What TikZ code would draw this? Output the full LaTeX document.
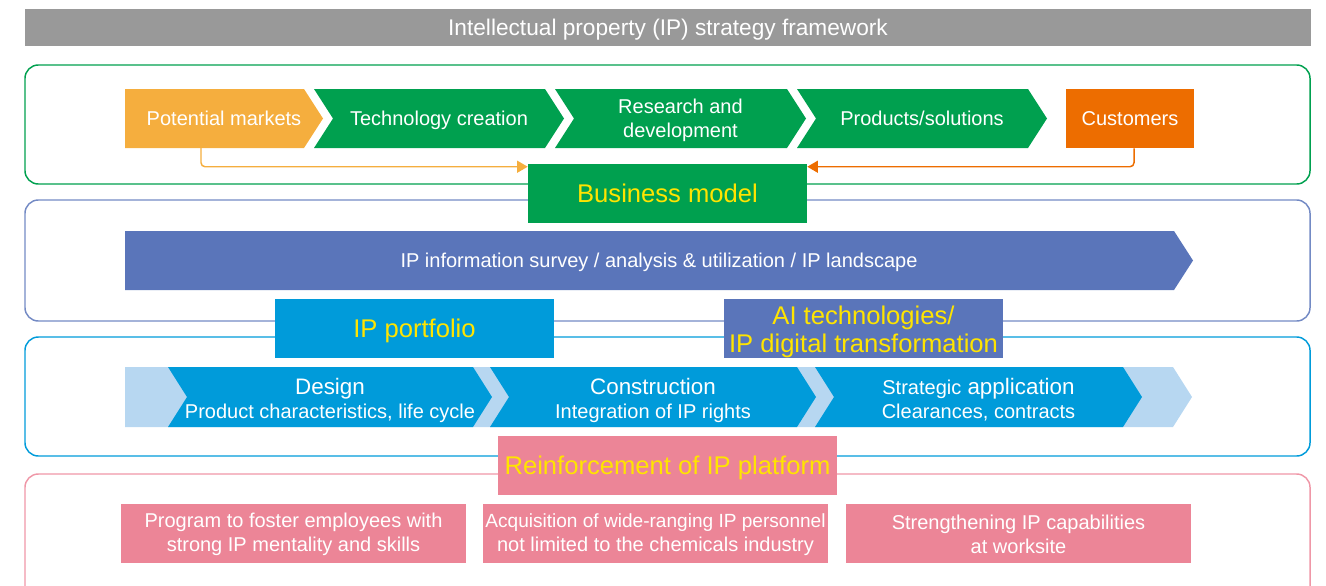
\documentclass[tikz,border=0pt]{standalone}
\usepackage{fontspec}
\setmainfont{Liberation Sans}
\usetikzlibrary{arrows.meta}
\definecolor{ipcinza}{HTML}{999999}
\definecolor{ipverde}{HTML}{00A04F}
\definecolor{ipamarelo}{HTML}{F5AE3E}
\definecolor{iplaranja}{HTML}{ED6D00}
\definecolor{ipazul}{HTML}{5A75BA}
\definecolor{ipciano}{HTML}{009BDA}
\definecolor{ipclaro}{HTML}{B7D7F1}
\definecolor{iprosa}{HTML}{EC8597}
\definecolor{ipouro}{HTML}{FFE400}
\tikzset{
  moldura/.style={line width=1.1pt,rounded corners=10pt},
  rot/.style={text=white,font=\fontsize{15}{18}\selectfont,align=center,inner sep=0pt},
  linha/.style={rot,text height=10.95pt,text depth=0pt},
  etapa/.style={rot,font=\fontsize{16.8}{18}\selectfont,text height=12.26pt,text depth=0pt},
  bloco/.style={inner sep=0pt,minimum width=209.25pt,minimum height=44.25pt},
  selo/.style={bloco,text=ipouro,font=\fontsize{19.2}{21.75}\selectfont,align=center,text height=14pt,text depth=0pt},
  caixa/.style={bloco,fill=iprosa,minimum width=258.75pt},
  liga/.style={line width=1.1pt,rounded corners=3pt,-{Triangle[length=8pt,width=9pt]}},
}
% seta: x esq, x dir, y topo, y base, entalhe, cor
\newcommand{\ipseta}[6]{\fill[#6] (#1,#3) -- (#2,#3) -- ({#2+19},{(#3+#4)/2}) -- (#2,#4) -- (#1,#4) -- ({#1+#5},{(#3+#4)/2}) -- cycle;}

\begin{document}
\begin{tikzpicture}[x=0.75pt,y=-0.75pt]
  \clip (0,0) rectangle (1326,585);
  \fill[ipcinza] (25,9) rectangle (1311,46);
  \node[rot,font=\fontsize{17}{20}\selectfont,text height=12.4pt,text depth=0pt] (titulo) at (668,27.5) {Intellectual property (IP) strategy framework};
  \foreach \cor/\ya/\yb in {ipverde/65/184, ipazul!85/200/321, ipciano/337/456, iprosa!85/474/620}
    \draw[moldura,draw=\cor] (25,\ya) rectangle (1310,\yb);

  % cadeia de valor
  \ipseta{125}{304}{89}{148}{0}{ipamarelo}
  \node[linha] (pm) at (224,118.5) {Potential markets};
  \foreach \a/\b/\nome/\txt in {314/545/tec/{Technology creation}, 797/1028/prod/{Products/solutions}} {
    \ipseta{\a}{\b}{89}{148}{19}{ipverde}
    \node[linha] (\nome) at ({(\a+\b)/2+9.5},118.5) {\txt};}
  \ipseta{555}{787}{89}{148}{19}{ipverde}
  \node[rot,yshift=-1.5pt] (pd) at (680.5,118.5) {Research and\\development};
  \node[linha,fill=iplaranja,minimum width=96pt,minimum height=44.25pt] (cli) at (1130,118.5) {Customers};
  \node[selo,fill=ipverde] (nm) at (667.5,193.5) {Business model};
  \coordinate (pmpe) at (201,148);
  \draw[liga,ipamarelo] (pmpe) |- ([yshift=-2.25pt]nm.north west);
  \draw[liga,iplaranja] ([xshift=3pt]cli.south) |- ([yshift=-2.25pt]nm.north east);

  % informacao
  \ipseta{125}{1174}{231}{290}{0}{ipazul}
  \node[linha] (info) at (659,260.5) {IP information survey / analysis \& utilization / IP landscape};
  \node[selo,fill=ipciano] (port) at (414.5,328.5) {IP portfolio};
  \node[bloco,fill=ipazul] (ia) at (863.5,328.5) {};
  \node[rot,text=ipouro,font=\fontsize{19.2}{21.3}\selectfont,yshift=-2.6pt] (tia) at (ia) {AI technologies/\\IP digital transformation};

  % portfolio
  \ipseta{125}{1173}{367}{427}{0}{ipclaro}
  \foreach \a/\b/\nome/\tit/\sub in {168/473/des/Design/{Product characteristics, life cycle}, 490/797/con/Construction/{Integration of IP rights}, 815/1123/est/{{\fontsize{15}{18}\selectfont Strategic} application}/{Clearances, contracts}} {
    \ipseta{\a}{\b}{367}{427}{19}{ipciano}
    \node[etapa] (\nome) at ({(\a+\b)/2+9.5},386) {\tit};
    \node[linha] (\nome2) at ({(\a+\b)/2+9.5},411) {\sub};}

  % plataforma
  \node[selo,fill=iprosa,minimum width=254.25pt] (plat) at (667.5,465.5) {Reinforcement of IP platform};
  \foreach \x/\nome/\txt in {293.5/fp/{Program to foster employees with\\strong IP mentality and skills}, 655.5/aq/{\fontsize{14.3}{18}\selectfont Acquisition of wide-ranging IP personnel\\not limited to the chemicals industry}, 1018.5/lc/{Strengthening IP capabilities\\at worksite}} {
    \node[caixa] (\nome) at (\x,533) {};
    \node[rot,yshift=-0.9pt] (t\nome) at (\nome) {\txt};}
\end{tikzpicture}
\end{document}
